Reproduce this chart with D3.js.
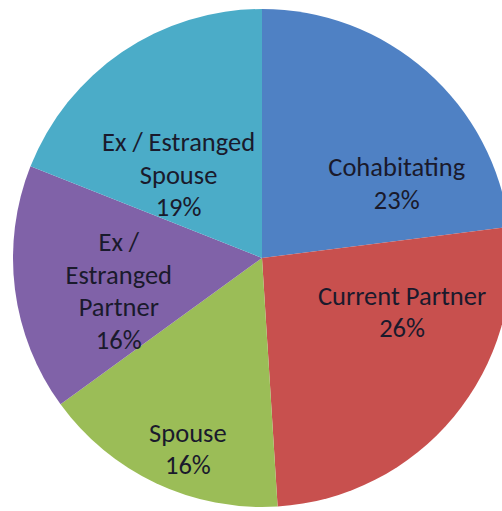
<!DOCTYPE html>
<html>
<head>
<meta charset="utf-8">
<script src="https://cdn.jsdelivr.net/npm/d3@7"></script>
<style>
  body { margin: 0; background: #fff; }
</style>
</head>
<body>
<script>
// Data
const categories = ["Cohabitating", "Current Partner", "Spouse", "Ex / Estranged Partner", "Ex / Estranged Spouse"];
const values = [23, 26, 16, 16, 19];
// Label lines as they wrap in the chart
const labelLines = [
  ["Cohabitating"],
  ["Current Partner"],
  ["Spouse"],
  ["Ex /", "Estranged", "Partner"],
  ["Ex / Estranged", "Spouse"]
];

// Constants
const width = 502;
const height = 511;
const cx = 262;
const cy = 258;
const radius = 249;
const line_height = 32.5;
const font_size = 26.5;

// Excel 2007 palette
const color = d3.scaleOrdinal()
  .domain(categories)
  .range(["#4f81c4", "#c8504e", "#9bbd57", "#8062a8", "#4bacc8"]);

// Where the labels sit: turn from slice middle (degrees) and distance from centre
const label_turn = [19.6, -18.6, -4, -5.8, -10.8];
const label_dist = [154, 150, 205, 147, 118];

const slices = values.map((v, i) => ({ name: categories[i], value: v, lines: labelLines[i], i }));

const pie = d3.pie()
  .value(d => d.value)
  .sort(null);

const arc = d3.arc()
  .innerRadius(0)
  .outerRadius(radius);

const svg = d3.select("body").append("svg")
  .attr("width", width)
  .attr("height", height)
  .attr("viewBox", [0, 0, width, height]);

const g = svg.append("g")
  .attr("transform", `translate(${cx},${cy})`);

const arcs = pie(slices);

// Slices
g.selectAll("path")
  .data(arcs)
  .join("path")
  .attr("d", arc)
  .attr("fill", d => color(d.data.name));

// Labels
const label = g.selectAll("text")
  .data(arcs)
  .join("text")
  .attr("text-anchor", "middle")
  .attr("font-family", "Carlito, Lato, 'Open Sans', sans-serif")
  .attr("font-size", font_size)
  .attr("fill", "#1a1a2c")
  .attr("transform", d => {
    const mid = (d.startAngle + d.endAngle) / 2 + label_turn[d.index] * Math.PI / 180;
    const [x, y] = d3.pointRadial(mid, label_dist[d.index]);
    return `translate(${x},${y})`;
  });

label.each(function(d) {
  const lines = [...d.data.lines, d.data.value + "%"];
  const top = -(lines.length - 1) / 2 * line_height;
  d3.select(this).selectAll("tspan")
    .data(lines)
    .join("tspan")
    .attr("x", 0)
    .attr("y", (l, k) => top + k * line_height)
    .attr("dominant-baseline", "central")
    .text(l => l);
});
</script>
</body>
</html>
